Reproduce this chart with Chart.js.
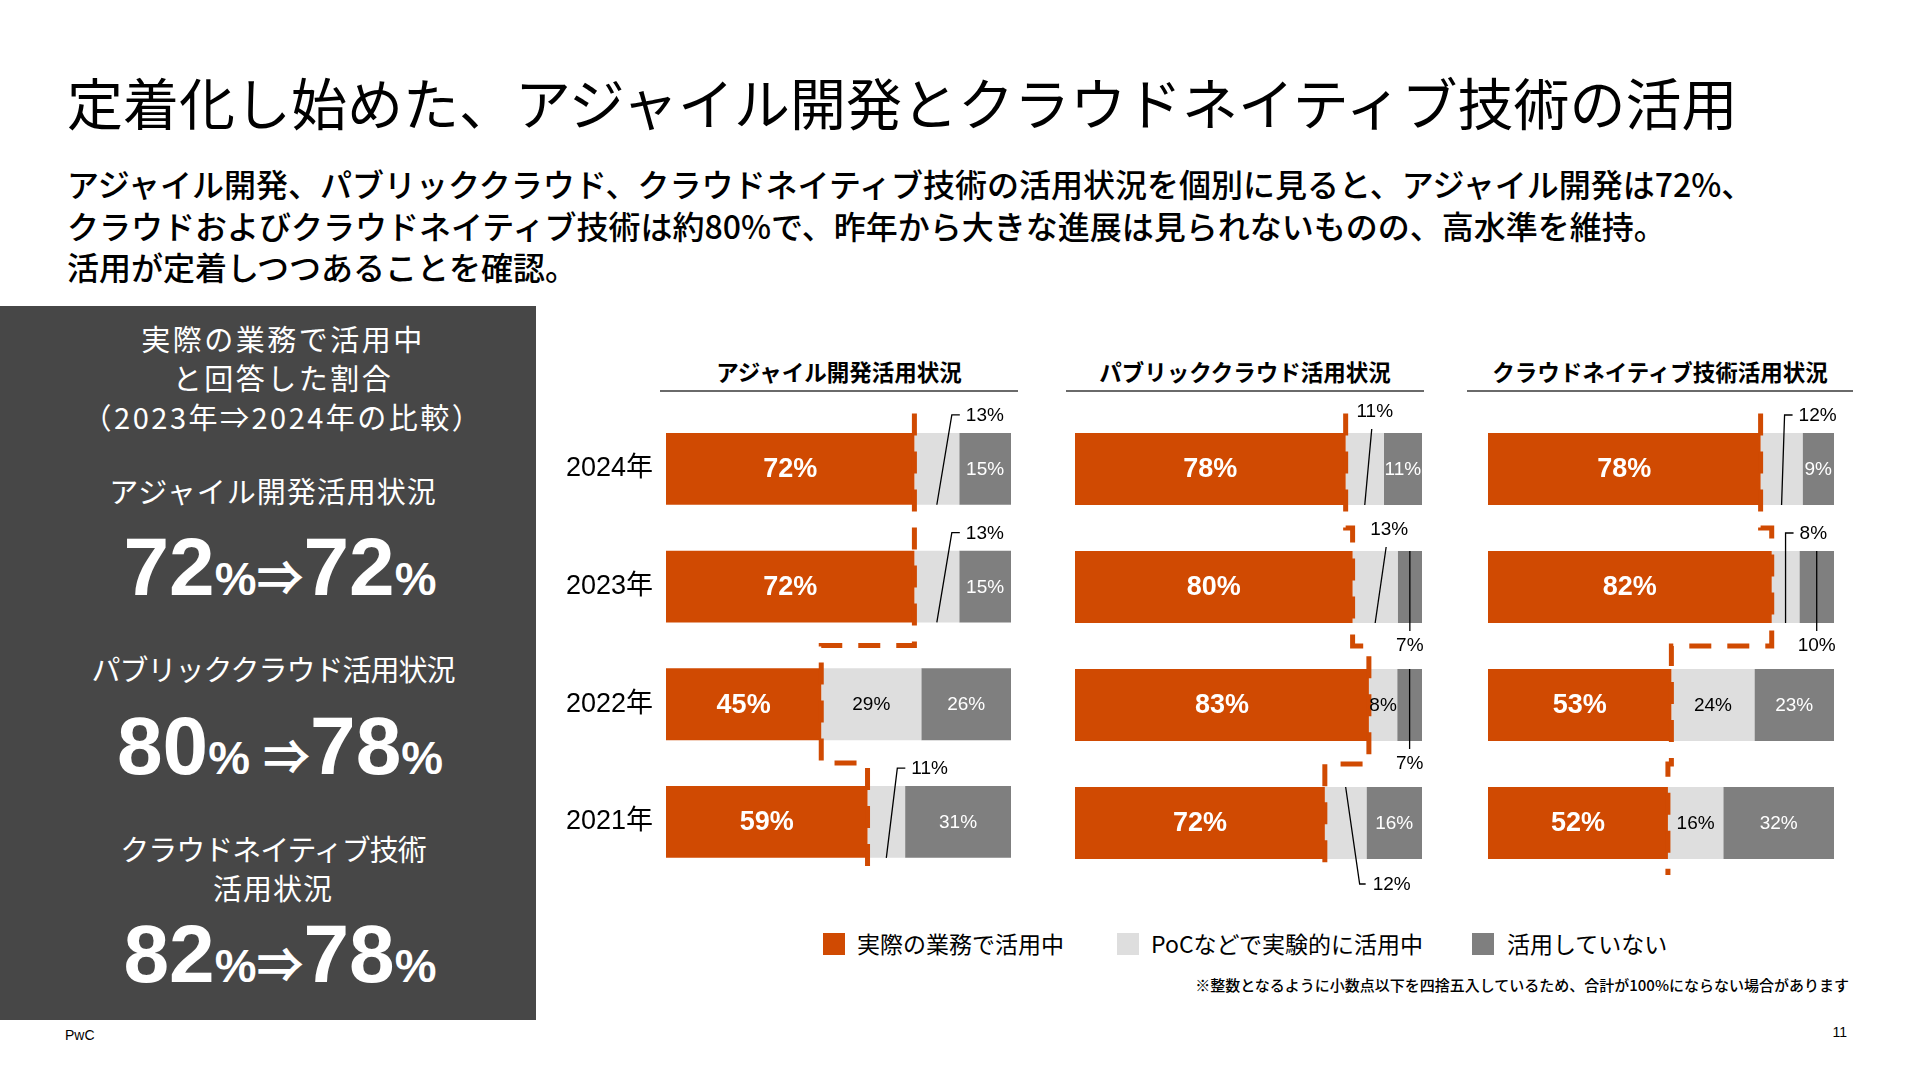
<!DOCTYPE html>
<html lang="ja">
<head>
<meta charset="utf-8">
<script src="https://cdn.jsdelivr.net/npm/chart.js@4.4.1/dist/chart.umd.min.js"></script>
<style>
html,body{margin:0;padding:0;background:#fff;}
#page{position:relative;width:1920px;height:1080px;overflow:hidden;font-family:"Noto Sans CJK JP","Liberation Sans",sans-serif;color:#000;}
.abs{position:absolute;white-space:nowrap;}
#title{left:67px;top:71px;font-size:56px;line-height:60px;font-weight:400;}
#sub{left:67px;top:163px;font-size:32px;line-height:41.5px;font-weight:500;}
#panel{left:0;top:306px;width:536px;height:714px;background:#474747;}
.pt{position:absolute;left:0;width:546px;text-align:center;color:#fff;font-size:29px;line-height:39px;letter-spacing:1px;white-space:nowrap;}
.big{position:absolute;left:0;width:560px;text-align:center;color:#fff;font-family:"Liberation Sans","Noto Sans CJK JP",sans-serif;font-weight:700;font-size:82px;line-height:80px;white-space:nowrap;}
.big .p{font-size:47px;line-height:1;}
.ctitle{position:absolute;top:356px;height:30px;text-align:center;font-size:22.5px;line-height:30px;font-weight:700;white-space:nowrap;}
.uline{position:absolute;top:390px;height:2px;background:#6a6a6a;}
canvas{position:absolute;}
.lg-sq{position:absolute;top:933px;width:22px;height:22px;}
.lg-tx{position:absolute;top:928px;font-size:23px;line-height:30px;white-space:nowrap;}
#note{right:71px;top:975px;font-size:15px;line-height:20px;font-weight:500;}
#pwc{left:65px;top:1027px;font-family:"Liberation Sans",sans-serif;font-size:14px;line-height:16px;}
#pno{right:73px;top:1024px;font-family:"Liberation Sans",sans-serif;font-size:14px;line-height:16px;}
</style>
</head>
<body>
<div id="page">
  <div id="title" class="abs">定着化し始めた、アジャイル開発とクラウドネイティブ技術の活用</div>
  <div id="sub" class="abs">アジャイル開発、パブリッククラウド、クラウドネイティブ技術の活用状況を個別に見ると、アジャイル開発は72%、<br>クラウドおよびクラウドネイティブ技術は約80%で、昨年から大きな進展は見られないものの、高水準を維持。<br>活用が定着しつつあることを確認。</div>

  <div id="panel" class="abs"></div>
  <div class="pt" style="top:319px;left:10px;letter-spacing:2.5px;">実際の業務で活用中<br>と回答した割合<br>（2023年⇒2024年の比較）</div>
  <div class="pt" style="top:471px;">アジャイル開発活用状況</div>
  <div class="big" style="top:527px;">72<span class="p">%⇒</span>72<span class="p">%</span></div>
  <div class="pt" style="top:649px;letter-spacing:-1px;">パブリッククラウド活用状況</div>
  <div class="big" style="top:706px;">80<span class="p">% ⇒</span>78<span class="p">%</span></div>
  <div class="pt" style="top:829px;letter-spacing:-1px;">クラウドネイティブ技術<br><span style="letter-spacing:1px">活用状況</span></div>
  <div class="big" style="top:914px;">82<span class="p">%⇒</span>78<span class="p">%</span></div>

  <div id="t0" class="ctitle" style="left:660px;width:358px;"></div>
  <div class="uline" style="left:660px;width:358px;"></div>
  <div id="t1" class="ctitle" style="left:1066px;width:358px;"></div>
  <div class="uline" style="left:1066px;width:358px;"></div>
  <div id="t2" class="ctitle" style="left:1467px;width:386px;"></div>
  <div class="uline" style="left:1467px;width:386px;"></div>

  <canvas id="c0" width="491" height="530" style="left:560px;top:380px;"></canvas>
  <canvas id="c1" width="407" height="530" style="left:1055px;top:380px;"></canvas>
  <canvas id="c2" width="411" height="530" style="left:1468px;top:380px;"></canvas>

  <div id="legend"></div>
  <div id="note" class="abs">※整数となるように小数点以下を四捨五入しているため、合計が100%にならない場合があります</div>
  <div id="pwc" class="abs">PwC</div>
  <div id="pno" class="abs">11</div>
</div>
<script>
// ---- data ----
const years = ['2024年', '2023年', '2022年', '2021年'];
const seriesNames = ['実際の業務で活用中', 'PoCなどで実験的に活用中', '活用していない'];
const panelTitles = ['アジャイル開発活用状況', 'パブリッククラウド活用状況', 'クラウドネイティブ技術活用状況'];

const agileActive = [72, 72, 45, 59];
const agilePoc    = [13, 13, 29, 11];
const agileNone   = [15, 15, 26, 31];

const cloudActive = [78, 80, 83, 72];
const cloudPoc    = [11, 13, 8, 12];
const cloudNone   = [11, 7, 7, 16];

const nativeActive = [78, 82, 53, 52];
const nativePoc    = [12, 8, 24, 16];
const nativeNone   = [9, 10, 23, 32];

// ---- style ----
const COLORS = ['#D04A02', '#DEDEDE', '#7F7F7F'];
const FONT = '"Liberation Sans", "Noto Sans CJK JP", sans-serif';

panelTitles.forEach((t, i) => { document.getElementById('t' + i).textContent = t; });
const lg = document.getElementById('legend');
const sqLeft = [823, 1117, 1472], txLeft = [857, 1151, 1507];
seriesNames.forEach((n, i) => {
  const s = document.createElement('div'); s.className = 'lg-sq';
  s.style.left = sqLeft[i] + 'px'; s.style.background = COLORS[i]; lg.appendChild(s);
  const t = document.createElement('div'); t.className = 'lg-tx';
  t.style.left = txLeft[i] + 'px'; t.textContent = n; lg.appendChild(t);
});

// 100% stacked shares (rounded values do not always add up to 100)
function shares(series) {
  const totals = series[0].map((_, i) => series.reduce((s, arr) => s + arr[i], 0));
  return series.map(arr => arr.map((v, i) => v / totals[i] * 100));
}

// dashed step line along the end of the "active" segment, through the chart's scales
const stepLine = {
  id: 'stepLine',
  afterDatasetsDraw(chart) {
    const xs = chart.scales.x, ys = chart.scales.y;
    const vals = chart.data.datasets[0].data;
    const n = vals.length;
    const yc = vals.map((_, i) => ys.getPixelForValue(i));
    const step = n > 1 ? (yc[1] - yc[0]) : 100;
    const ctx = chart.ctx;
    ctx.save();
    ctx.strokeStyle = COLORS[0];
    ctx.lineWidth = 5;
    ctx.lineCap = 'butt';
    ctx.lineJoin = 'miter';
    ctx.setLineDash([22, 16]);
    ctx.beginPath();
    ctx.moveTo(xs.getPixelForValue(vals[0]), yc[0] - 0.47 * step);
    for (let i = 0; i < n - 1; i++) {
      const mid = (yc[i] + yc[i + 1]) / 2;
      ctx.lineTo(xs.getPixelForValue(vals[i]), mid);
      ctx.lineTo(xs.getPixelForValue(vals[i + 1]), mid);
    }
    ctx.lineTo(xs.getPixelForValue(vals[n - 1]), yc[n - 1] + 0.44 * step);
    ctx.stroke();
    ctx.restore();
  }
};

const segLabels = {
  id: 'segLabels',
  afterDatasetsDraw(chart, args, opts) {
    const ctx = chart.ctx;
    const call = opts.callouts || {};
    const area = chart.chartArea;
    ctx.save();
    for (let d = 0; d < 3; d++) {
      const meta = chart.getDatasetMeta(d);
      const ds = chart.data.datasets[d];
      meta.data.forEach((el, i) => {
        const v = ds.rawValues[i];
        const p = el.getProps(['x', 'y', 'base', 'height'], true);
        const left = Math.min(p.x, p.base);
        const right = Math.min(Math.max(p.x, p.base), area.right);
        const cx = (left + right) / 2, top = p.y - p.height / 2, bottom = p.y + p.height / 2;
        const txt = v + '%';
        const c = call[d + '-' + i];
        ctx.textBaseline = 'middle';
        if (!c) {
          ctx.font = d === 0 ? 'bold 27px ' + FONT : '19px ' + FONT;
          ctx.fillStyle = d === 1 ? '#000' : '#fff';
          ctx.textAlign = 'center';
          ctx.fillText(txt, cx, p.y + 1);
          return;
        }
        ctx.strokeStyle = '#000'; ctx.lineWidth = 1.3;
        ctx.fillStyle = '#000'; ctx.font = '19px ' + FONT;
        ctx.beginPath();
        if (c.mode === 'diagUp') {
          const ex = cx + c.dx, ey = top - 18;
          ctx.moveTo(cx, bottom); ctx.lineTo(ex, ey); ctx.lineTo(ex + 8, ey); ctx.stroke();
          ctx.textAlign = 'left'; ctx.fillText(txt, ex + 14, ey + 1);
        } else if (c.mode === 'labelAbove') {
          const ex = cx + c.dx, ey = top - 4;
          ctx.moveTo(cx, bottom); ctx.lineTo(ex, ey); ctx.stroke();
          ctx.textAlign = 'center'; ctx.fillText(txt, ex + 3, top - 21);
        } else if (c.mode === 'vertDown') {
          ctx.moveTo(cx, top); ctx.lineTo(cx, bottom + 8); ctx.stroke();
          ctx.textAlign = 'center'; ctx.fillText(txt, cx, bottom + 23);
        } else if (c.mode === 'diagDown') {
          const ex = cx + c.dx, ey = bottom + 25;
          ctx.moveTo(cx, top); ctx.lineTo(ex, ey); ctx.lineTo(ex + 6, ey); ctx.stroke();
          ctx.textAlign = 'left'; ctx.fillText(txt, ex + 13, ey + 1);
        }
      });
    }
    ctx.restore();
  }
};

const panels = [
  { id: 'c0', series: [agileActive, agilePoc, agileNone], showYears: true,
    pad: { left: 0, right: 40, top: 30, bottom: 28 },
    callouts: { '1-0': { mode: 'diagUp', dx: 15 }, '1-1': { mode: 'diagUp', dx: 15 }, '1-3': { mode: 'diagUp', dx: 11 } } },
  { id: 'c1', series: [cloudActive, cloudPoc, cloudNone], showYears: false,
    pad: { left: 20, right: 40, top: 30, bottom: 28 },
    callouts: { '1-0': { mode: 'labelAbove', dx: 7 }, '1-1': { mode: 'labelAbove', dx: 11 },
                '2-1': { mode: 'vertDown' }, '2-2': { mode: 'vertDown' }, '1-3': { mode: 'diagDown', dx: 14 } } },
  { id: 'c2', series: [nativeActive, nativePoc, nativeNone], showYears: false,
    pad: { left: 20, right: 45, top: 30, bottom: 28 },
    callouts: { '1-0': { mode: 'diagUp', dx: 3 }, '1-1': { mode: 'diagUp', dx: 0 }, '2-1': { mode: 'vertDown' } } }
];

function build() {
  panels.forEach(pn => {
    const sh = shares(pn.series);
    const datasets = pn.series.map((vals, k) => ({
      label: seriesNames[k], data: sh[k], rawValues: vals, backgroundColor: COLORS[k],
      borderWidth: 0, barPercentage: 0.61, categoryPercentage: 1
    }));
    const yScale = { stacked: true, display: pn.showYears,
      grid: { display: false, drawTicks: false }, border: { display: false },
      ticks: { color: '#000', font: { family: FONT, size: 27 }, padding: 13 } };
    if (pn.showYears) yScale.afterFit = s => { s.width = 106; };
    new Chart(document.getElementById(pn.id), {
      type: 'bar',
      data: { labels: years, datasets },
      options: {
        indexAxis: 'y', responsive: false, animation: false, devicePixelRatio: 1,
        layout: { padding: pn.pad },
        plugins: { legend: { display: false }, tooltip: { enabled: false }, segLabels: { callouts: pn.callouts } },
        scales: {
          x: { min: 0, max: 100, stacked: true, display: false },
          y: yScale
        }
      },
      plugins: [stepLine, segLabels]
    });
  });
}
if (document.fonts && document.fonts.ready) { document.fonts.ready.then(build); } else { build(); }
</script>
</body>
</html>
